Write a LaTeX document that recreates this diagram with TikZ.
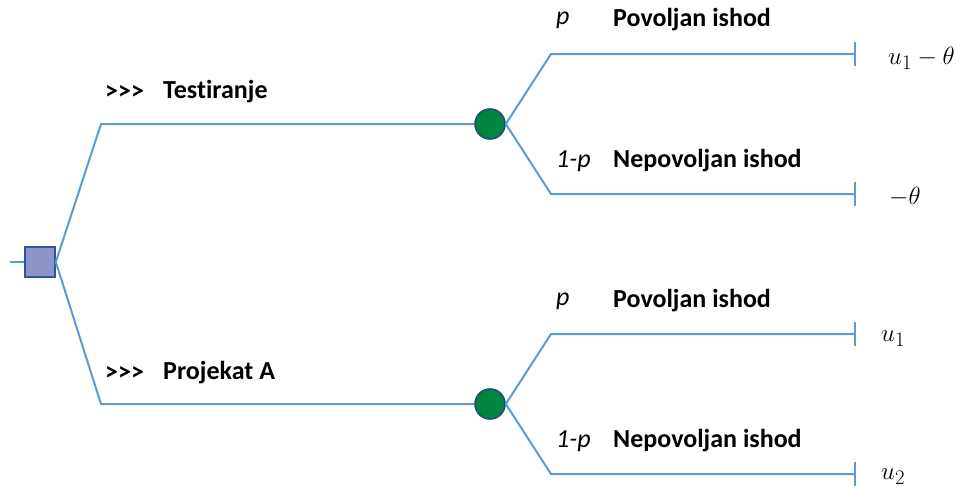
\documentclass[tikz,border=0pt]{standalone}
\usepackage{fontspec}
\setmainfont{Carlito}[Ligatures={NoCommon}]
\usetikzlibrary{arrows.meta}
\definecolor{linec}{RGB}{91,155,213}
\definecolor{sqfill}{RGB}{142,148,200}
\definecolor{sqdraw}{RGB}{47,85,151}
\definecolor{cfill}{RGB}{0,132,62}
\definecolor{cdraw}{RGB}{31,78,121}
\tikzset{
  branch/.style={draw=linec,line width=2pt},
  endbranch/.style={branch,-{Bar[width=24pt,line width=2pt]}},
  decbox/.style={draw=sqdraw,fill=sqfill,line width=1.6pt,minimum size=30pt,inner sep=0pt},
  chance/.style={circle,draw=cdraw,fill=cfill,line width=1.6pt,minimum size=30pt,inner sep=0pt},
  lbl/.style={font=\bfseries\fontsize{26}{30}\selectfont,anchor=west,inner sep=0pt},
  prob/.style={font=\itshape\fontsize{26}{30}\selectfont,anchor=west,inner sep=0pt},
  pay/.style={font=\fontsize{29}{33}\selectfont,anchor=west,inner sep=0pt}
}
\newcommand{\gtgt}{>\kern0pt>\kern0pt>}
\begin{document}
\begin{tikzpicture}[x=1pt,y=-1pt]
\useasboundingbox (0,0) rectangle (960,488);
\node[decbox] (d) at (40,262) {};
\coordinate (s) at (10,262);
\coordinate (bu) at (101,124);
\coordinate (bl) at (101,404);
\node[chance] (c1) at (490,124) {};
\node[chance] (c2) at (490,404) {};
\coordinate (b1) at (551,54);
\coordinate (b2) at (551,194);
\coordinate (b3) at (551,334);
\coordinate (b4) at (551,474);
\coordinate (e1) at (856,54);
\coordinate (e2) at (856,194);
\coordinate (e3) at (856,334);
\coordinate (e4) at (856,474);
\draw[branch] (s) -- (d.west);
\draw[branch] (d.east) -- (bu) -- (c1.west);
\draw[branch] (d.east) -- (bl) -- (c2.west);
\draw[endbranch] (c1.east) -- (b1) -- (e1);
\draw[endbranch] (c1.east) -- (b2) -- (e2);
\draw[endbranch] (c2.east) -- (b3) -- (e3);
\draw[endbranch] (c2.east) -- (b4) -- (e4);
\node[lbl] (g1) at (105,92) {\gtgt};
\node[lbl] (t1) at (163,92) {Testiranje};
\node[lbl] (g2) at (105,373) {\gtgt};
\node[lbl] (t2) at (163,373) {Projekat A};
\node[prob] (p1) at (556,20) {p};
\node[lbl] (o1) at (613,20) {Povoljan ishod};
\node[prob] (p2) at (556,161) {1-p};
\node[lbl] (o2) at (613,161) {Nepovoljan ishod};
\node[prob] (p3) at (556,301) {p};
\node[lbl] (o3) at (613,301) {Povoljan ishod};
\node[prob] (p4) at (556,441) {1-p};
\node[lbl] (o4) at (613,441) {Nepovoljan ishod};
\node[pay] (v1) at (888,58) {$u_1-\theta$};
\node[pay] (v2) at (889,197) {$-\theta$};
\node[pay] (v3) at (881,339) {$u_1$};
\node[pay] (v4) at (881,477) {$u_2$};
\end{tikzpicture}
\end{document}
